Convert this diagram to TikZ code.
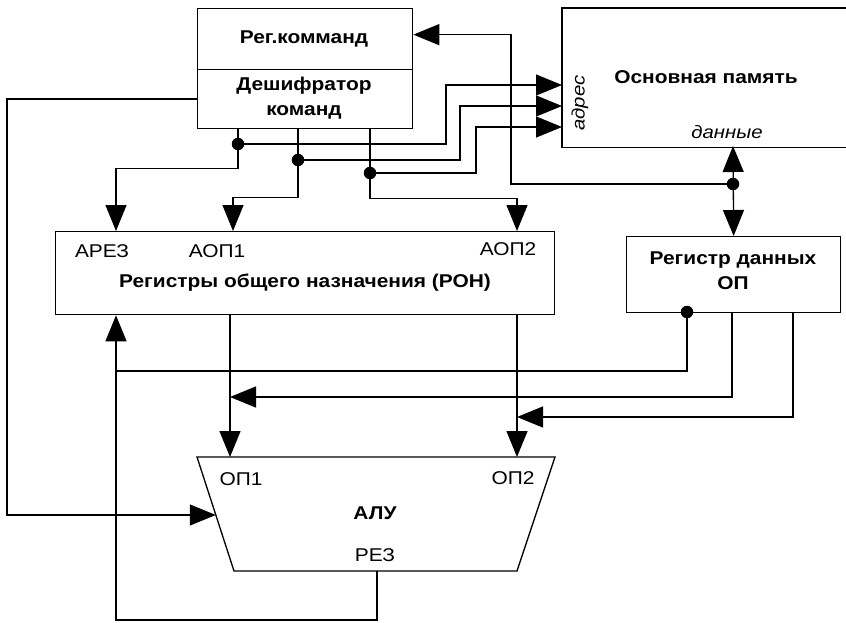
\documentclass[tikz,border=0pt]{standalone}
\usepackage{fontspec}
\setmainfont{Liberation Sans}[FakeStretch=1.13]
\usetikzlibrary{arrows.meta}
\begin{document}
\begin{tikzpicture}[x=1pt,y=-1pt,
  line width=1.3pt, line join=miter,
  >={Triangle[length=26pt,width=21pt]},
  box/.style={draw, rectangle, anchor=north west, inner sep=0pt},
  lbl/.style={font=\fontsize{18.5}{20}\selectfont, inner sep=0pt},
  ital/.style={font=\fontsize{18}{20}\selectfont\itshape, inner sep=0pt},
  bold/.style={font=\fontsize{18.5}{25}\selectfont\bfseries, align=center, inner sep=0pt},
  junction/.style={circle, fill, inner sep=0pt, minimum size=12.5pt},
]
\useasboundingbox (0,0) rectangle (846,623);

% command register and decoder
\node[box, minimum width=215pt, minimum height=61pt] (reg) at (197,8) {};
\node[box, minimum width=215pt, minimum height=59pt] (dec) at (197,69) {};
\node[bold] (regtxt) at (304,39) {Рег.комманд};
\node[bold] (dectxt) at (304,98) {Дешифратор\\команд};

% main memory (right edge runs off the sheet)
\node[anchor=north west, inner sep=0pt, minimum width=284pt, minimum height=138pt] (mem) at (562,8) {};
\draw (mem.north east) -- (mem.north west) -- (mem.south west) -- (mem.south east);
\node[bold] (memtxt) at (706,77) {Основная память};
\node[ital, rotate=90] (adr) at (580,103) {адрес};
\node[ital] (dat) at (727,132) {данные};

% general purpose registers
\node[box, minimum width=499pt, minimum height=83pt] (ron) at (55,231) {};
\node[lbl] (tAREZ) at (102,251) {АРЕЗ};
\node[lbl] (tAOP1) at (217,251) {АОП1};
\node[lbl] (tAOP2) at (508,249) {АОП2};
\node[bold] (rontxt) at (305,283) {Регистры общего назначения (РОН)};

% memory data register
\node[box, minimum width=214pt, minimum height=76pt] (rd) at (626,236) {};
\node[bold] (rdtxt) at (733,271) {Регистр данных\\ОП};

% ALU
\coordinate (alu-tl) at (197,457);
\coordinate (alu-tr) at (555,457);
\coordinate (alu-br) at (517,571);
\coordinate (alu-bl) at (234,571);
\draw (alu-tl) -- (alu-tr) -- (alu-br) -- (alu-bl) -- cycle;
\node[lbl] (tOP1) at (241,479) {ОП1};
\node[lbl] (tOP2) at (513,478) {ОП2};
\node[bold] (alutxt) at (375,513) {АЛУ};
\node[lbl] (tREZ) at (375,555) {РЕЗ};

% connection points
\coordinate (j1) at (238,144);
\coordinate (j2) at (298,160);
\coordinate (j3) at (370,173);
\coordinate (j4) at (733,184);
\coordinate (j5) at (687,312);
\coordinate (adr1) at (562,85);
\coordinate (adr2) at (562,106);
\coordinate (adr3) at (562,127);
\coordinate (inAREZ) at (116,231);
\coordinate (inAOP1) at (233,231);
\coordinate (inAOP2) at (517,231);
\coordinate (outAOP1) at (230,314);
\coordinate (outAOP2) at (517,314);
\coordinate (inOP1) at (230,457);
\coordinate (inOP2) at (517,457);
\coordinate (inCtl) at (215.8,515);
\coordinate (outREZ) at (377,571);
\coordinate (memDat) at (733,146);
\coordinate (rdOut2) at (732,312);
\coordinate (rdOut3) at (793,312);

% decoder control to ALU
\draw[->] (dec.west) -- ++(-190,0) |- (inCtl);

% decoder outputs: register addresses
\draw[->] (j1 |- dec.south) -- ++(0,39) -| (inAREZ);
\draw[->] (j2 |- dec.south) -- ++(0,68) -| (inAOP1);
\draw[->] (j3 |- dec.south) -- ++(0,69) -| (inAOP2);

% decoder outputs: memory address
\draw[->] (j1) -- (446,144) |- (adr1);
\draw[->] (j2) -- (460,160) |- (adr2);
\draw[->] (j3) -- (476,173) |- (adr3);

% data bus
\draw[<->] (memDat) -- (rd.north);
\draw[->] (j4) -- (511,184) |- ([yshift=4.5pt]reg.east);

% register file to ALU operands
\draw[->] (outAOP1) -- (inOP1);
\draw[->] (outAOP2) -- (inOP2);

% result back to the register file
\draw[->] (outREZ) -- (377,620) -| (ron.south -| inAREZ);

% memory data register outputs
\draw (j5) -- (687,371) -- (116,371);
\draw[->] (rdOut2) -- (732,397) -- (230,397);
\draw[->] (rdOut3) -- (793,417) -- (517,417);

% junction dots
\foreach \p in {j1,j2,j3,j4,j5} \node[junction] at (\p) {};
\end{tikzpicture}
\end{document}
